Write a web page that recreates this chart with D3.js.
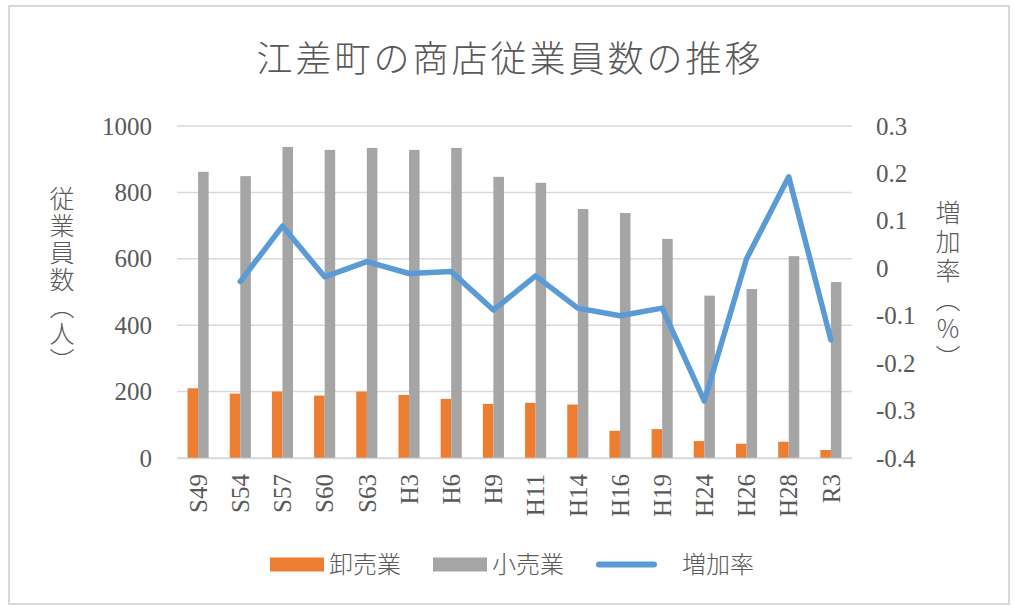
<!DOCTYPE html>
<html lang="ja">
<head>
<meta charset="UTF-8">
<title>江差町の商店従業員数の推移</title>
<script src="https://d3js.org/d3.v7.min.js"></script>
<style>
  body { margin: 0; background: #fff; }
  .num { font-family: "Liberation Serif", "DejaVu Serif", serif; fill: #595959; }
  .jp { font-family: "Noto Sans CJK JP", sans-serif; fill: #595959; font-weight: 300; }
</style>
</head>
<body>
<div id="chart"></div>
<script>
// data
const categories = ["S49","S54","S57","S60","S63","H3","H6","H9","H11","H14","H16","H19","H24","H26","H28","R3"];
const wholesale = [210,194,200,188,200,190,178,163,166,161,82,87,51,43,49,24];
const retail = [862,849,937,928,934,928,934,847,829,750,738,660,489,509,608,530];
const growth = [null,-0.028,0.089,-0.018,0.014,-0.011,-0.007,-0.088,-0.016,-0.084,-0.100,-0.084,-0.280,0.020,0.193,-0.151];
const leftTicks = [0,200,400,600,800,1000];
const rightTicks = [-0.4,-0.3,-0.2,-0.1,0,0.1,0.2,0.3];

const width = 1018, height = 616;
const margin = { top: 126, right: 166, bottom: 158, left: 177 };
const innerW = width - margin.left - margin.right;
const innerH = height - margin.top - margin.bottom;

const svg = d3.select("#chart").append("svg")
    .attr("width", width)
    .attr("height", height);

// outer frame
svg.append("rect")
    .attr("x", 9).attr("y", 6)
    .attr("width", 1000).attr("height", 598)
    .attr("fill", "#fff")
    .attr("stroke", "#d9d9d9")
    .attr("stroke-width", 2);

svg.append("text")
    .attr("class", "jp")
    .attr("x", 510).attr("y", 72)
    .attr("text-anchor", "middle")
    .style("font-size", "36px")
    .style("letter-spacing", "3px")
    .text("江差町の商店従業員数の推移");

const g = svg.append("g")
    .attr("transform", `translate(${margin.left},${margin.top})`);

const x0 = d3.scaleBand()
    .domain(categories)
    .range([0, innerW])
    .paddingInner(0.5)
    .paddingOuter(0.25);

const x1 = d3.scaleBand()
    .domain(["wholesale", "retail"])
    .range([0, x0.bandwidth()]);

const y = d3.scaleLinear().domain([0, 1000]).range([innerH, 0]);
const y2 = d3.scaleLinear().domain([-0.4, 0.3]).range([innerH, 0]);

// gridlines
g.append("g")
    .selectAll("line")
    .data(leftTicks)
    .join("line")
    .attr("x1", 0).attr("x2", innerW)
    .attr("y1", d => y(d)).attr("y2", d => y(d))
    .attr("stroke", "#d9d9d9")
    .attr("stroke-width", 1.5);

// left axis
const leftAxis = g.append("g")
    .call(d3.axisLeft(y).tickValues(leftTicks).tickSize(0).tickPadding(25)
        .tickFormat(d => String(d)));
leftAxis.select(".domain").remove();
leftAxis.selectAll("text").attr("class", "num").style("font-size", "25px");

// right axis
const rightAxis = g.append("g")
    .attr("transform", `translate(${innerW},0)`)
    .call(d3.axisRight(y2).tickValues(rightTicks).tickSize(0).tickPadding(24)
        .tickFormat(d => String(+d.toFixed(1))));
rightAxis.select(".domain").remove();
rightAxis.selectAll("text").attr("class", "num").style("font-size", "25px");

// bars
const rows = categories.map((c, i) => ({ c, wholesale: wholesale[i], retail: retail[i] }));
const colors = { wholesale: "#ed7d31", retail: "#a5a5a5" };

const groups = g.append("g")
    .selectAll("g")
    .data(rows)
    .join("g")
    .attr("transform", d => `translate(${x0(d.c)},0)`);

groups.selectAll("rect")
    .data(d => ["wholesale", "retail"].map(k => ({ k, v: d[k] })))
    .join("rect")
    .attr("x", d => x1(d.k))
    .attr("width", x1.bandwidth())
    .attr("y", d => y(d.v))
    .attr("height", d => innerH - y(d.v))
    .attr("fill", d => colors[d.k]);

// bottom axis
const bottomAxis = g.append("g")
    .attr("transform", `translate(0,${innerH})`)
    .call(d3.axisBottom(x0).tickSize(0).tickSizeOuter(0).tickPadding(0));
bottomAxis.select(".domain").attr("stroke", "#d9d9d9").attr("stroke-width", 1.5);
bottomAxis.selectAll("text")
    .attr("class", "num")
    .style("font-size", "25px")
    .attr("transform", "rotate(-90)")
    .attr("x", -16)
    .attr("y", 0)
    .attr("dy", "0.35em")
    .attr("text-anchor", "end");

// growth line
const line = d3.line()
    .defined(d => d.v !== null)
    .x(d => x0(d.c) + x0.bandwidth() / 2)
    .y(d => y2(d.v));

g.append("path")
    .datum(categories.map((c, i) => ({ c, v: growth[i] })))
    .attr("fill", "none")
    .attr("stroke", "#5b9bd5")
    .attr("stroke-width", 5.5)
    .attr("stroke-linejoin", "round")
    .attr("stroke-linecap", "round")
    .attr("d", line);

// vertical axis titles
svg.append("text")
    .attr("class", "jp")
    .attr("x", 62).attr("y", 186)
    .style("font-size", "25px")
    .style("writing-mode", "vertical-rl")
    .style("letter-spacing", "2px")
    .text("従業員数（人）");

svg.append("text")
    .attr("class", "jp")
    .attr("x", 948).attr("y", 200)
    .style("font-size", "25px")
    .style("writing-mode", "vertical-rl")
    .style("letter-spacing", "4px")
    .text("増加率（％）");

// legend
const legend = svg.append("g").attr("transform", "translate(0,564.5)");
const legendItems = [
    { label: "卸売業", type: "rect", color: colors.wholesale, x: 270, tx: 329 },
    { label: "小売業", type: "rect", color: colors.retail, x: 433, tx: 492 },
    { label: "増加率", type: "line", color: "#5b9bd5", x: 599, tx: 682 }
];
legendItems.forEach(d => {
    if (d.type === "rect") {
        legend.append("rect")
            .attr("x", d.x).attr("y", -7)
            .attr("width", 54).attr("height", 14)
            .attr("fill", d.color);
    } else {
        legend.append("line")
            .attr("x1", d.x).attr("x2", d.x + 55)
            .attr("y1", 0).attr("y2", 0)
            .attr("stroke", d.color)
            .attr("stroke-width", 6)
            .attr("stroke-linecap", "round");
    }
    legend.append("text")
        .attr("class", "jp")
        .attr("x", d.tx).attr("y", 0)
        .attr("dy", "0.36em")
        .style("font-size", "24px")
        .text(d.label);
});
</script>
</body>
</html>
